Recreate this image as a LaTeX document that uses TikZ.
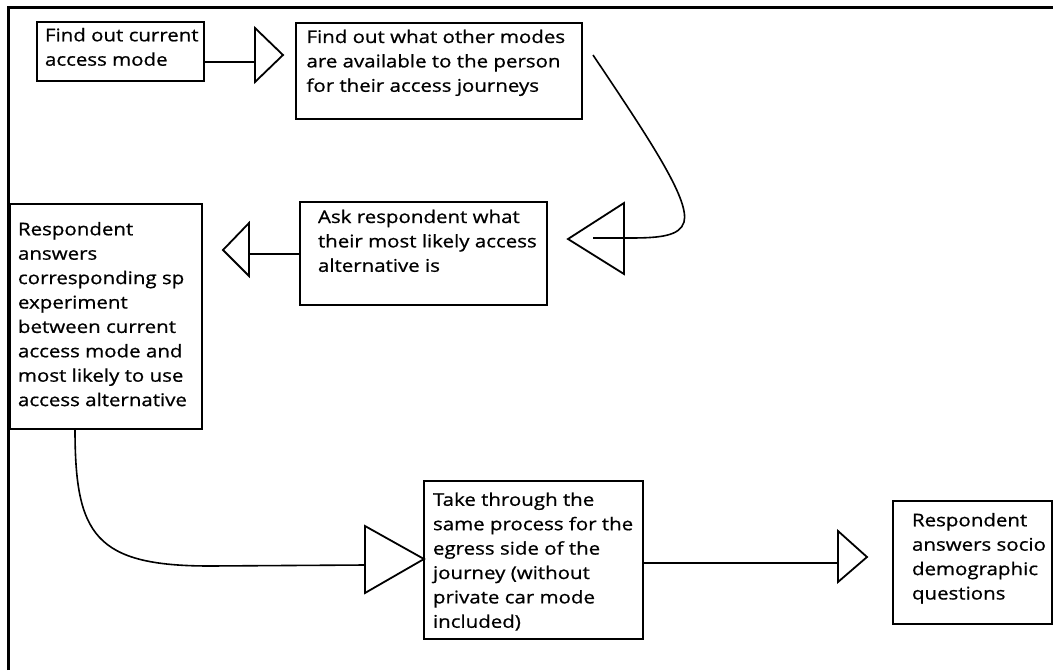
\documentclass[tikz,border=0pt]{standalone}
\usepackage{fontspec}
\setmainfont{Open Sans}[FakeStretch=1.17, FakeBold=0.8]
\begin{document}
\begin{tikzpicture}[x=1pt,y=-1pt,
  box/.style={draw, line width=1.8pt, rectangle, inner sep=0pt, outer sep=0pt, anchor=north west},
  boxtext/.style={anchor=north west, inner sep=0pt, outer sep=0pt, align=left,
    font=\fontsize{17.5}{24.4}\selectfont, execute at begin node={\rule{0pt}{17pt}}},
  link/.style={line width=1.6pt},
  head/.style={line width=1.8pt, line join=miter},
  frame/.style={line width=2.6pt}]
\useasboundingbox (0,0) rectangle (1053,670);

% page frame (top and left edges)
\draw[frame] (8.5,670) -- (8.5,7.5) -- (1053,7.5);

% process boxes
\node[box, minimum width=167pt, minimum height=59pt]  (boxA) at (37,22)   {};
\node[box, minimum width=286pt, minimum height=96pt]  (boxB) at (296,23)  {};
\node[box, minimum width=247pt, minimum height=103pt] (boxC) at (300,202) {};
\node[box, minimum width=192pt, minimum height=225pt] (boxD) at (10,204)  {};
\node[box, minimum width=219pt, minimum height=158pt] (boxE) at (424,481) {};
\node[box, minimum width=159pt, minimum height=123pt] (boxF) at (893,501) {};

% box texts (top of each node sits 17pt above the first baseline)
\node[boxtext] (tA) at (45,28)     {Find out current\\access mode};
\node[boxtext] (tB) at (306.5,29.7) {Find out what other modes\\are available to the person\\for their access journeys};
\node[boxtext] (tC) at (318,209.7) {Ask respondent what\\their most likely access\\alternative is};
\node[boxtext] (tD) at (18,222)    {Respondent\\answers\\corresponding sp\\experiment\\between current\\access mode and\\most likely to use\\access alternative};
\node[boxtext] (tE) at (433,492.5) {Take through the\\same process for the\\egress side of the\\journey (without\\private car mode\\included)};
\node[boxtext] (tF) at (912,513)   {Respondent\\answers socio\\demographic\\questions};

% connector ends
\coordinate (abEnd)   at (255,62);
\coordinate (bcStart) at (593,55);
\coordinate (bcEnd)   at (593,238);
\coordinate (cdEnd)   at (249,254);
\coordinate (deEnd)   at (365,565);
\coordinate (efEnd)   at (838,563);

% A -> B
\draw[link] (boxA.east |- abEnd) -- (abEnd);
\draw[head] (255,28) -- (283,55) -- (255,82) -- cycle;

% B -> C
\draw[link] (bcStart) .. controls (650,140) and (690,200) .. (684,222)
  .. controls (680,236) and (660,238) .. (630,238) -- (bcEnd);
\draw[head] (624,203) -- (568,239) -- (624,274) -- cycle;

% C -> D
\draw[link] (boxC.west |- cdEnd) -- (cdEnd);
\draw[head] (249,223) -- (223,250) -- (249,276) -- cycle;

% D -> E
\draw[link] ([xshift=65pt]boxD.south west) .. controls (75,535) and (95,566) .. (210,566) -- (deEnd);
\draw[head] (365,526) -- (424,559) -- (365,593) -- cycle;

% E -> F
\draw[link] (boxE.east |- efEnd) -- (efEnd);
\draw[head] (838,531) -- (867,557) -- (838,582) -- cycle;
\end{tikzpicture}
\end{document}
